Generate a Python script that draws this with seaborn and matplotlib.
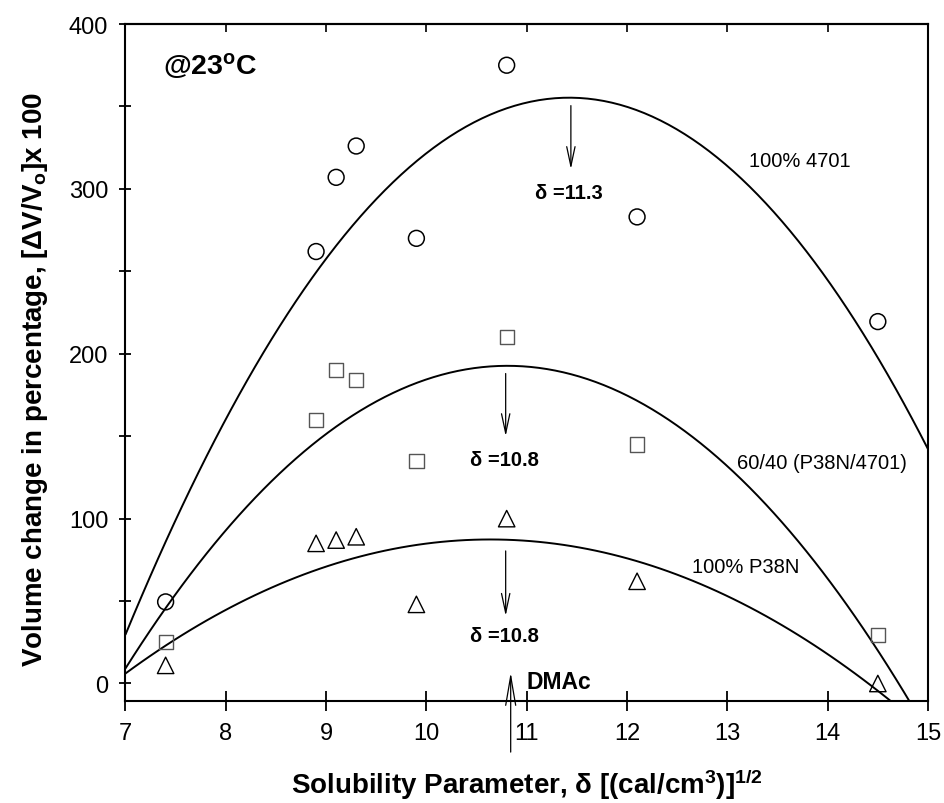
import numpy as np
import pandas as pd
import matplotlib
matplotlib.use("Agg")
import matplotlib.pyplot as plt
import seaborn as sns

# ---- data ----
delta = [7.4, 8.9, 9.1, 9.3, 9.9, 10.8, 12.1, 14.5]
swell_4701 = [49.5, 262, 307, 326, 270, 375, 283, 219.5]
swell_6040 = [25, 160, 190, 184, 135, 210, 145, 29.5]
swell_p38n = [11, 85, 87, 89, 48, 100, 62, 0]
series_labels = ["100% 4701", "60/40 (P38N/4701)", "100% P38N"]
x_ticks = [7, 8, 9, 10, 11, 12, 13, 14, 15]
y_ticks = [0, 100, 200, 300, 400]

sns.set_theme(style="ticks")
plt.rcParams['font.family'] = ['Liberation Sans', 'DejaVu Sans']
plt.rcParams['mathtext.fontset'] = 'custom'
plt.rcParams['mathtext.rm'] = 'Liberation Sans'
plt.rcParams['mathtext.it'] = 'Liberation Sans:italic'
plt.rcParams['mathtext.bf'] = 'Liberation Sans:bold'
for k in ['text.color', 'axes.labelcolor', 'xtick.color', 'ytick.color', 'axes.edgecolor']:
    plt.rcParams[k] = 'black'

fig = plt.figure(figsize=(9.45, 8.04), dpi=100)
ax = fig.add_axes([0.1328, 0.1269, 0.8492, 0.842])
ax.set_xlim(7, 15)
ax.set_ylim(-10.6, 400)

df = pd.DataFrame({"delta": delta, "s4701": swell_4701,
                   "s6040": swell_6040, "sp38n": swell_p38n})

line_kws = dict(color="black", lw=1.4)
for col in ["s4701", "s6040", "sp38n"]:
    sns.regplot(data=df, x="delta", y=col, order=2, ci=None, scatter=False,
                truncate=False, line_kws=line_kws, ax=ax)

sns.scatterplot(data=df, x="delta", y="s4701", marker="o", s=130,
                facecolor="none", edgecolor="black", linewidth=1.1, ax=ax, zorder=3)
sns.scatterplot(data=df, x="delta", y="s6040", marker="s", s=105,
                facecolor="none", edgecolor="#555555", linewidth=1.0, ax=ax, zorder=3)
sns.scatterplot(data=df, x="delta", y="sp38n", marker="^", s=140,
                facecolor="none", edgecolor="black", linewidth=1.0, ax=ax, zorder=3)

ax.set_xlim(7, 15)
ax.set_ylim(-10.6, 400)
ax.set_xticks(x_ticks)
ax.set_yticks(y_ticks)
ax.set_yticks([50, 150, 250, 350], minor=True)
ax.tick_params(axis='x', which='major', direction='inout', length=14, width=1.3,
               labelsize=17, pad=8, colors='black')
ax.tick_params(axis='y', which='both', direction='inout', length=9, width=1.3,
               labelsize=17, pad=8, colors='black')
for sp in ax.spines.values():
    sp.set_linewidth(1.5)
    sp.set_color('black')
    sp.set_visible(True)

secax = ax.secondary_xaxis('top')
secax.set_xticks(x_ticks[1:-1])
secax.tick_params(direction='in', length=6, width=1.2, labeltop=False, colors='black')
secax.spines['top'].set_linewidth(1.5)

ax.set_xlabel(r"Solubility Parameter, δ [(cal/cm$^{\mathbf{3}}$)]$^{\mathbf{1/2}}$",
              fontsize=20, fontweight='bold', labelpad=16)
ax.set_ylabel(r"Volume change in percentage, [ΔV/V$_{\mathbf{o}}$]x 100",
              fontsize=20, fontweight='bold')
ax.yaxis.set_label_coords(-0.094, 0.476)

# annotations
ax.text(7.37, 375, r"@23$^{\mathbf{o}}$C", fontsize=20.5, fontweight='bold',
        ha='left', va='center')
ax.text(13.22, 317, series_labels[0], fontsize=14.5, ha='left', va='center')
ax.text(13.10, 134, series_labels[1], fontsize=14.5, ha='left', va='center')
ax.text(12.65, 70.7, series_labels[2], fontsize=14.5, ha='left', va='center')

ax.text(11.42, 298, "δ =11.3", fontsize=14.5, fontweight='bold', ha='center', va='center')
ax.text(10.78, 136, "δ =10.8", fontsize=14.5, fontweight='bold', ha='center', va='center')
ax.text(10.78, 29, "δ =10.8", fontsize=14.5, fontweight='bold', ha='center', va='center')
ax.text(11.0, 1.5, "DMAc", fontsize=16.5, fontweight='bold', ha='left', va='center')

arrow = dict(arrowstyle="->,head_length=1.4,head_width=0.3", lw=0.9, color='black',
             shrinkA=0, shrinkB=0, mutation_scale=10)
ax.annotate("", xy=(11.44, 312), xytext=(11.44, 350.5), arrowprops=arrow)
ax.annotate("", xy=(10.79, 150), xytext=(10.79, 188), arrowprops=arrow)
ax.annotate("", xy=(10.79, 41), xytext=(10.79, 80.4), arrowprops=arrow)
dm_arrow = dict(arrowstyle="->,head_length=2.1,head_width=0.36", lw=0.9, color='black',
                shrinkA=0, shrinkB=0, mutation_scale=10)
ax.annotate("", xy=(10.84, 6.7), xytext=(10.84, -41.6), arrowprops=dm_arrow,
            annotation_clip=False)

fig.savefig("out.png", dpi=100)
